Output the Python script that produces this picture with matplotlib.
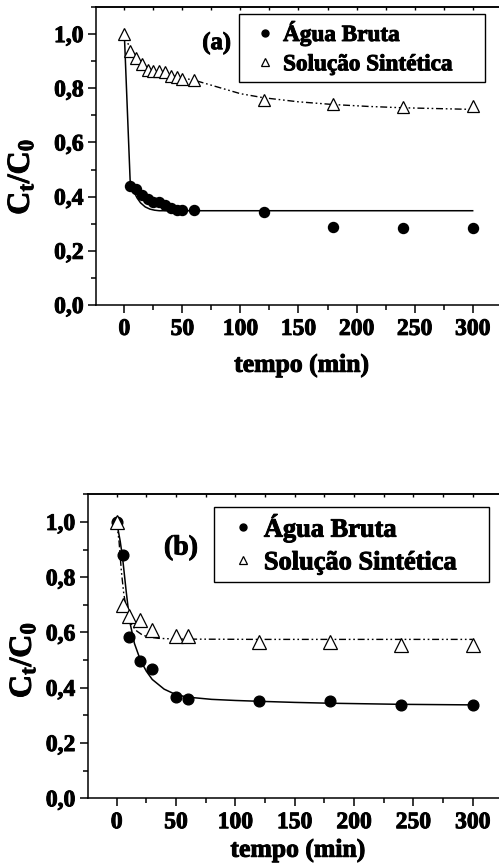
import matplotlib
matplotlib.use("Agg")
import matplotlib.pyplot as plt
import matplotlib.patheffects as pe
from matplotlib.ticker import MultipleLocator, FuncFormatter, NullFormatter
from matplotlib.lines import Line2D

plt.rcParams['font.family'] = ['Liberation Serif', 'DejaVu Serif']
plt.rcParams['font.weight'] = 'bold'
plt.rcParams['mathtext.fontset'] = 'custom'
plt.rcParams['mathtext.rm'] = 'Liberation Serif:bold'
plt.rcParams['mathtext.it'] = 'Liberation Serif:bold'
plt.rcParams['mathtext.bf'] = 'Liberation Serif:bold'

# ---------- Panel (a) data ----------
a_bruta_t = [5, 10, 15, 20, 25, 30, 35, 40, 45, 50, 60, 120, 180, 240, 300]
a_bruta_y = [0.44, 0.43, 0.406, 0.39, 0.382, 0.38, 0.37, 0.357, 0.35, 0.35, 0.351, 0.345, 0.289, 0.286, 0.284]
a_sint_t = [0, 5, 10, 15, 20, 25, 30, 35, 40, 45, 50, 60, 120, 180, 240, 300]
a_sint_y = [1.0, 0.936, 0.911, 0.89, 0.868, 0.862, 0.862, 0.86, 0.845, 0.84, 0.835, 0.829, 0.755, 0.741, 0.73, 0.735]
a_fit_bruta_t = [0, 5, 8, 11, 14, 18, 22, 26, 30, 60, 120, 300]
a_fit_bruta_y = [1.0, 0.46, 0.42, 0.395, 0.377, 0.362, 0.354, 0.35, 0.348, 0.348, 0.348, 0.348]
a_fit_sint_t = [0, 5, 10, 15, 20, 30, 40, 50, 60, 80, 100, 120, 150, 180, 210, 240, 270, 300]
a_fit_sint_y = [1.0, 0.945, 0.91, 0.89, 0.875, 0.86, 0.848, 0.838, 0.83, 0.805, 0.78, 0.765, 0.75, 0.74, 0.733, 0.728, 0.725, 0.722]

# ---------- Panel (b) data ----------
b_bruta_t = [0, 5, 10, 20, 30, 50, 60, 120, 180, 240, 300]
b_bruta_y = [1.0, 0.881, 0.585, 0.497, 0.467, 0.368, 0.361, 0.353, 0.353, 0.336, 0.336]
b_sint_t = [0, 5, 10, 20, 30, 50, 60, 120, 180, 240, 300]
b_sint_y = [1.0, 0.698, 0.658, 0.646, 0.61, 0.589, 0.589, 0.566, 0.566, 0.555, 0.553]
b_fit_bruta_t = [0, 3, 5, 8, 11, 15, 20, 25, 30, 40, 50, 60, 80, 100, 120, 150, 180, 240, 300]
b_fit_bruta_y = [1.0, 0.93, 0.87, 0.75, 0.64, 0.56, 0.50, 0.46, 0.43, 0.395, 0.375, 0.366, 0.358, 0.354, 0.351, 0.347, 0.344, 0.34, 0.338]
b_fit_sint_t = [0, 2, 4, 6, 8, 10, 13, 17, 22, 28, 35, 45, 60, 120, 180, 240, 300]
b_fit_sint_y = [1.0, 0.93, 0.82, 0.74, 0.69, 0.655, 0.625, 0.605, 0.59, 0.583, 0.579, 0.577, 0.576, 0.575, 0.575, 0.575, 0.575]

labels = ['Água Bruta', 'Solução Sintética']
xticks = [0, 50, 100, 150, 200, 250, 300]
yticks = [0.0, 0.2, 0.4, 0.6, 0.8, 1.0]

W, H = 499, 864
fig = plt.figure(figsize=(W / 100, H / 100), dpi=100)
BOLD = [pe.withStroke(linewidth=0.7, foreground='black')]

def px_axes(left, top, right, bottom):
    return fig.add_axes([left / W, (H - bottom) / H, (right - left) / W, (bottom - top) / H])

dashdotdot = (0, (5, 2, 1.2, 2, 1.2, 2))

def style(ax, tick_fs):
    ax.set_xlim(-24.4, 330)
    ax.set_ylim(0, 1.1)
    ax.set_xticks(xticks)
    ax.set_yticks(yticks)
    ax.xaxis.set_minor_locator(MultipleLocator(25))
    ax.yaxis.set_minor_locator(MultipleLocator(0.1))
    ax.yaxis.set_major_formatter(FuncFormatter(lambda v, p: f"{v:.1f}".replace('.', ',')))
    for s in ['left', 'bottom', 'top']:
        ax.spines[s].set_linewidth(1.1)
    ax.spines['right'].set_visible(False)
    ax.tick_params(axis='both', which='major', direction='out', length=6, width=1.1, labelsize=tick_fs)
    ax.tick_params(axis='both', which='minor', direction='out', length=3.5, width=1.1)
    ax.tick_params(axis='y', pad=3)
    ax.tick_params(axis='x', pad=4)
    # small inward ticks along the top spine
    top = ax.secondary_xaxis('top')
    top.set_xticks(xticks)
    top.xaxis.set_minor_locator(MultipleLocator(25))
    top.xaxis.set_major_formatter(NullFormatter())
    top.tick_params(axis='x', which='both', direction='in', length=2.5, width=1.0)
    top.spines['top'].set_linewidth(1.1)

def draw(ax, bt, by, st, sy, fbt, fby, fst, fsy, ms_c, ms_t, leg_fs, leg_box, panel, panel_xy,
         label_pad, ylab_xy, lab_sp, bpad):
    ax.plot(fbt, fby, color='black', lw=1.1, zorder=2)
    ax.plot(fst, fsy, color='black', lw=1.0, linestyle=dashdotdot, zorder=2)
    ax.plot(bt, by, linestyle='none', marker='o', ms=ms_c, mfc='black', mec='black', zorder=3)
    ax.plot(st, sy, linestyle='none', marker='^', ms=ms_t, mfc='white', mec='black', mew=0.9, zorder=4)
    handles = [Line2D([], [], linestyle='none', marker='o', ms=5, mfc='black', mec='black'),
               Line2D([], [], linestyle='none', marker='^', ms=5.5, mfc='white', mec='black', mew=0.9)]
    leg = ax.legend(handles, labels, loc='upper left', bbox_to_anchor=leg_box, mode='expand',
                    frameon=True, fancybox=False, edgecolor='black', framealpha=1,
                    prop={'family': 'Liberation Serif', 'weight': 'bold', 'size': leg_fs},
                    handlelength=1.6, handletextpad=0.0, borderpad=bpad, labelspacing=lab_sp,
                    borderaxespad=0)
    leg.get_frame().set_linewidth(1.0)
    for t in leg.get_texts():
        t.set_path_effects(BOLD)
    ax.text(panel_xy[0], panel_xy[1], panel, transform=ax.transAxes, ha='center', va='center',
            fontsize=leg_fs + 1, fontweight='bold', path_effects=BOLD)
    ax.set_xlabel('tempo (min)', fontsize=18.5, fontweight='bold', labelpad=label_pad,
                  path_effects=BOLD)
    ax.set_ylabel(r'$\mathrm{C_t/C_0}$', fontsize=23, path_effects=BOLD)
    ax.yaxis.set_label_coords(*ylab_xy)

# Panel (a): axes 96..507.5 x 7..305 px
ax1 = px_axes(96, 7, 507.5, 305)
style(ax1, 17)
draw(ax1, a_bruta_t, a_bruta_y, a_sint_t, a_sint_y, a_fit_bruta_t, a_fit_bruta_y,
     a_fit_sint_t, a_fit_sint_y, 7.2, 8.7, 16.7,
     ((239 - 96) / 411.5, (305 - 76) / 298, (485 - 239) / 411.5, (76 - 14) / 298), '(a)',
     ((216.7 - 96) / 411.5, (305 - 43) / 298), 10,
     ((36 - 96) / 411.5, (305 - 176.7) / 298), 0.35, 0.3)

# Panel (b): axes 87.7..508.3 x 494.3..798.3 px
ax2 = px_axes(87.7, 494.3, 508.3, 798.3)
style(ax2, 17)
draw(ax2, b_bruta_t, b_bruta_y, b_sint_t, b_sint_y, b_fit_bruta_t, b_fit_bruta_y,
     b_fit_sint_t, b_fit_sint_y, 7.7, 9.4, 19,
     ((214 - 87.7) / 420.6, (798.3 - 577) / 304, (489 - 214) / 420.6, (577 - 507) / 304), '(b)',
     ((181 - 87.7) / 420.6, (798.3 - 548) / 304), 4,
     ((38 - 87.7) / 420.6, (798.3 - 660) / 304), 0.35, 0.29)

# thicken tick labels after the ticks have been realised
fig.canvas.draw()
for ax in (ax1, ax2):
    for lab in ax.get_xticklabels() + ax.get_yticklabels():
        lab.set_fontweight('bold')
        lab.set_path_effects(BOLD)

fig.savefig('out.png', dpi=100)
